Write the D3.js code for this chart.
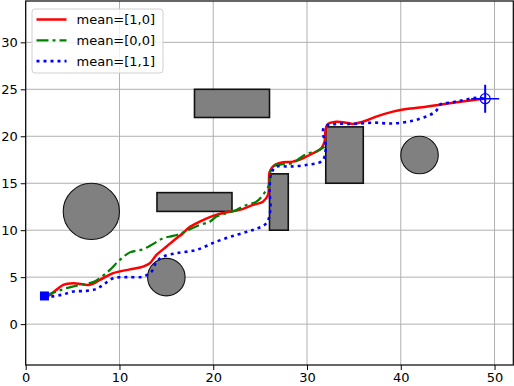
<!DOCTYPE html>
<html>
<head>
<meta charset="utf-8">
<script src="https://cdn.jsdelivr.net/npm/d3@7"></script>
<style>
  body { margin: 0; background: #fff; }
  svg { display: block; }
  text { font-family: "DejaVu Sans", sans-serif; }
</style>
</head>
<body>
<div id="chart"></div>
<script>
var svgWidth = 514;
var svgHeight = 386;

var margin = { top: 1, right: 0.7, bottom: 21, left: 25.7 };
var width = svgWidth - margin.left - margin.right;
var height = svgHeight - margin.top - margin.bottom;

// axis ranges and ticks
var xDomain = [0, 52];
var yDomain = [-4.35, 34.4];
var xTicks = [0, 10, 20, 30, 40, 50];
var yTicks = [0, 5, 10, 15, 20, 25, 30];

// obstacles: rectangles [x, y, w, h] and circles [cx, cy, r]
var rects = [[18, 22, 8, 3], [14, 12, 8, 2], [26, 10, 2, 6], [32, 15, 4, 6]];
var circles = [[7, 12, 3], [15, 5, 2], [42, 18, 2]];

var start = [2, 3];
var goal = [49, 24];

var seriesNames = ["mean=[1,0]", "mean=[0,0]", "mean=[1,1]"];

var path10 = [[2, 3], [2.41, 3.01], [3.2, 3.6], [4.0, 4.18], [5.07, 4.36], [6.85, 4.18], [7.91, 4.71],
  [9.33, 5.43], [11.11, 5.83], [12.52, 6.13], [13.24, 6.49], [13.95, 7.37], [15.02, 8.26],
  [16.08, 9.15], [16.78, 9.68], [17.32, 10.21], [18.56, 10.91], [19.98, 11.52], [21.41, 11.91],
  [22.82, 12.16], [24.24, 12.69], [25.3, 13.04], [25.84, 13.76], [25.94, 15.0], [26.02, 16.23],
  [26.55, 16.95], [27.43, 17.23], [28.5, 17.3], [29.56, 17.66], [30.63, 18.19], [31.52, 18.72],
  [31.87, 19.43], [31.98, 20.67], [32.23, 21.31], [33.12, 21.55], [34.19, 21.45], [34.89, 21.31],
  [35.95, 21.55], [37.38, 22.09], [39.15, 22.62], [40.58, 22.9], [42.7, 23.15], [45.19, 23.51],
  [46.96, 23.76], [48.38, 23.94], [49, 24]];

var path00 = [[2, 3], [3.3, 3.47], [4.37, 3.83], [5.78, 4.18], [7.2, 4.47], [7.91, 4.89], [8.98, 5.78],
  [10.04, 6.84], [11.11, 7.64], [12.52, 7.98], [13.59, 8.54], [14.65, 9.15], [15.72, 9.39],
  [16.61, 9.68], [17.5, 10.11], [18.56, 10.56], [19.63, 10.91], [20.34, 11.45], [21.41, 11.81],
  [22.47, 12.16], [23.54, 12.69], [24.6, 13.04], [25.3, 13.76], [26.02, 15.0], [26.02, 15.88],
  [26.37, 16.77], [27.43, 17.02], [28.5, 17.13], [29.21, 17.66], [30.1, 18.19], [30.99, 18.36],
  [31.87, 18.89]];

var path11 = [[2, 3], [2.59, 2.94], [3.83, 3.12], [5.07, 3.47], [6.5, 3.54], [7.56, 3.76], [8.26, 4.18],
  [9.33, 4.89], [10.76, 5.0], [12.52, 5.06], [13.42, 5.6], [13.95, 6.63], [14.65, 7.19],
  [16.08, 7.55], [18.21, 7.9], [20.34, 8.79], [22.47, 9.5], [24.24, 10.03], [25.67, 10.74],
  [26.09, 12.16], [26.02, 14.29], [26.2, 16.06], [26.73, 16.77], [28.15, 16.77], [29.93, 16.95],
  [31.52, 17.3], [31.87, 17.83], [31.98, 19.26], [31.69, 20.32], [31.87, 21.02], [33.12, 21.31],
  [34.89, 21.31], [37.02, 21.45], [39.15, 21.36], [41.28, 21.66], [42.84, 22.16], [43.77, 22.69],
  [44.12, 23.33], [45.54, 23.62], [46.78, 23.86], [48.03, 24.1], [49, 24]];

var paths = [path10, path00, path11];
var colors = ["#ff0000", "#008000", "#0000ff"];
var dashes = [null, "12,4,3,4", "3,4"];
var widths = [2.5, 2.2, 2.6];

var svg = d3.select("#chart")
  .append("svg")
  .attr("width", svgWidth)
  .attr("height", svgHeight);

var chartGroup = svg.append("g")
  .attr("transform", `translate(${margin.left}, ${margin.top})`);

var xScale = d3.scaleLinear().domain(xDomain).range([0, width]);
var yScale = d3.scaleLinear().domain(yDomain).range([height, 0]);

chartGroup.append("clipPath").attr("id", "clip")
  .append("rect").attr("width", width).attr("height", height);

// grid
chartGroup.append("g")
  .selectAll("line").data(xTicks).enter().append("line")
  .attr("x1", d => xScale(d)).attr("x2", d => xScale(d))
  .attr("y1", 0).attr("y2", height)
  .attr("stroke", "#b0b0b0").attr("stroke-width", 1);

chartGroup.append("g")
  .selectAll("line").data(yTicks).enter().append("line")
  .attr("y1", d => yScale(d)).attr("y2", d => yScale(d))
  .attr("x1", 0).attr("x2", width)
  .attr("stroke", "#b0b0b0").attr("stroke-width", 1);

var plot = chartGroup.append("g").attr("clip-path", "url(#clip)");

// obstacles
plot.selectAll("rect.obs").data(rects).enter().append("rect")
  .attr("class", "obs")
  .attr("x", d => xScale(d[0]))
  .attr("y", d => yScale(d[1] + d[3]))
  .attr("width", d => xScale(d[0] + d[2]) - xScale(d[0]))
  .attr("height", d => yScale(d[1]) - yScale(d[1] + d[3]))
  .attr("fill", "#808080")
  .attr("stroke", "#111")
  .attr("stroke-width", 1.6);

plot.selectAll("circle.obs").data(circles).enter().append("circle")
  .attr("class", "obs")
  .attr("cx", d => xScale(d[0]))
  .attr("cy", d => yScale(d[1]))
  .attr("r", d => xScale(d[2]) - xScale(0))
  .attr("fill", "#808080")
  .attr("stroke", "#111")
  .attr("stroke-width", 1.1);

// paths
var line = d3.line()
  .x(d => xScale(d[0]))
  .y(d => yScale(d[1]))
  .curve(d3.curveCatmullRom.alpha(0.5));

plot.selectAll("path.route").data(paths).enter().append("path")
  .attr("class", "route")
  .attr("d", d => line(d))
  .attr("fill", "none")
  .attr("stroke", (d, i) => colors[i])
  .attr("stroke-width", (d, i) => widths[i])
  .attr("stroke-dasharray", (d, i) => dashes[i]);

// start and goal
plot.append("rect")
  .attr("x", xScale(start[0]) - 4.5)
  .attr("y", yScale(start[1]) - 4.5)
  .attr("width", 9).attr("height", 9)
  .attr("fill", "#0000ff");

var gx = xScale(goal[0]), gy = yScale(goal[1]);
plot.append("line")
  .attr("x1", gx - 14).attr("x2", gx + 14).attr("y1", gy).attr("y2", gy)
  .attr("stroke", "#0000ff").attr("stroke-width", 1.5);
plot.append("line")
  .attr("x1", gx).attr("x2", gx).attr("y1", gy - 14).attr("y2", gy + 14)
  .attr("stroke", "#0000ff").attr("stroke-width", 2);
plot.append("circle")
  .attr("cx", gx).attr("cy", gy).attr("r", 5)
  .attr("fill", "none").attr("stroke", "#0000ff").attr("stroke-width", 1.2);

// axes
var bottomAxis = d3.axisBottom(xScale).tickValues(xTicks).tickSize(5).tickPadding(3);
var leftAxis = d3.axisLeft(yScale).tickValues(yTicks).tickSize(5).tickPadding(3);

var xAxis = chartGroup.append("g")
  .attr("transform", `translate(0, ${height})`)
  .call(bottomAxis);
var yAxis = chartGroup.append("g").call(leftAxis);

[xAxis, yAxis].forEach(function(ax) {
  ax.select(".domain").remove();
  ax.selectAll("text").attr("font-size", 13).attr("fill", "#000")
    .style("font-family", "DejaVu Sans");
  ax.selectAll("line").attr("stroke", "#000").attr("stroke-width", 1);
});

// frame
chartGroup.append("rect")
  .attr("width", width).attr("height", height)
  .attr("fill", "none").attr("stroke", "#000").attr("stroke-width", 1.2);

// legend
var legend = svg.append("g").attr("transform", "translate(32, 9)");
legend.append("rect")
  .attr("width", 131).attr("height", 64).attr("rx", 3)
  .attr("fill", "#fff").attr("fill-opacity", 0.8)
  .attr("stroke", "#d0d0d0").attr("stroke-width", 1);

seriesNames.forEach(function(name, i) {
  var ly = 10.5 + i * 20.8;
  legend.append("line")
    .attr("x1", 4.5).attr("x2", 34.5).attr("y1", ly).attr("y2", ly)
    .attr("stroke", colors[i])
    .attr("stroke-width", widths[i])
    .attr("stroke-dasharray", dashes[i]);
  legend.append("text")
    .attr("x", 44.5).attr("y", ly)
    .attr("dy", "0.35em")
    .attr("font-size", 13)
    .text(name);
});
</script>
</body>
</html>
